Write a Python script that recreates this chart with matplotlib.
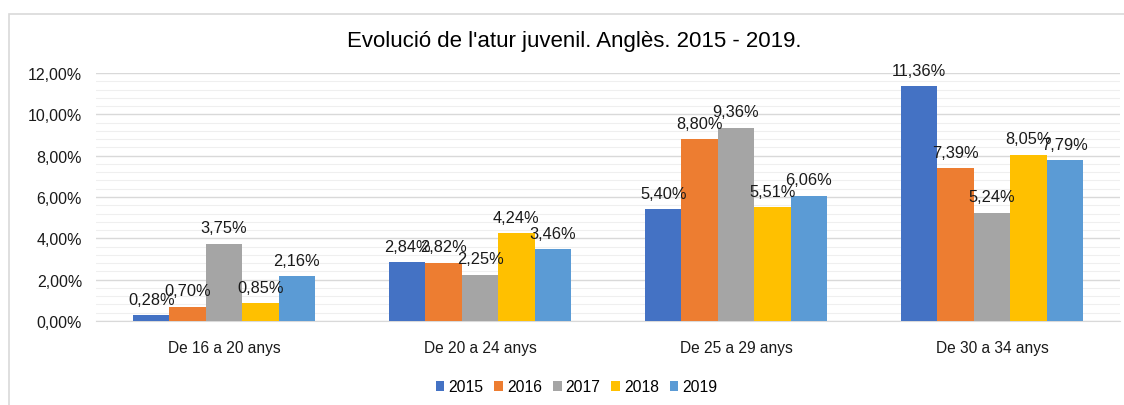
import matplotlib.pyplot as plt
import numpy as np
from matplotlib.patches import Rectangle
from matplotlib.ticker import MultipleLocator, FuncFormatter

plt.rcParams['font.family'] = ['Liberation Sans', 'DejaVu Sans']

# Dades
categories = ['De 16 a 20 anys', 'De 20 a 24 anys', 'De 25 a 29 anys', 'De 30 a 34 anys']
years = ['2015', '2016', '2017', '2018', '2019']
v2015 = [0.28, 2.84, 5.40, 11.36]
v2016 = [0.70, 2.82, 8.80, 7.39]
v2017 = [3.75, 2.25, 9.36, 5.24]
v2018 = [0.85, 4.24, 5.51, 8.05]
v2019 = [2.16, 3.46, 6.06, 7.79]
series = [v2015, v2016, v2017, v2018, v2019]
colors = ['#4472C4', '#ED7D31', '#A5A5A5', '#FFC000', '#5B9BD5']


def pct(v, pos=None):
    return f'{v:.2f}%'.replace('.', ',')


fig = plt.figure(figsize=(11.24, 4.06), dpi=100)
fig.patches.append(Rectangle((9 / 1124, -0.1), 1.2, (406 - 15) / 406 + 0.1,
                             transform=fig.transFigure, fill=False,
                             edgecolor='#D9D9D9', linewidth=1.2))

ax = fig.add_axes([96 / 1124, 1 - 322 / 406, (1120 - 96) / 1124, (322 - 74) / 406])

x = np.arange(len(categories))
w = 0.142
for i, (vals, c, yr) in enumerate(zip(series, colors, years)):
    pos = x + (i - 2) * w
    ax.bar(pos, vals, width=w, color=c, label=yr, zorder=3)
    for p, v in zip(pos, vals):
        ax.annotate(pct(v), (p, v), xytext=(0, 6), textcoords='offset points',
                    ha='center', va='bottom', fontsize=11.8, color='#1a1a1a', zorder=4)

ax.set_xlim(-0.5, len(categories) - 0.5)
ax.set_ylim(0, 12)
ax.yaxis.set_major_locator(MultipleLocator(2))
ax.yaxis.set_minor_locator(MultipleLocator(0.4))
ax.yaxis.set_major_formatter(FuncFormatter(pct))
ax.grid(axis='y', which='major', color='#D9D9D9', linewidth=1, zorder=0)
ax.grid(axis='y', which='minor', color='#EFEFEF', linewidth=0.8, zorder=0)
ax.set_xticks(x)
ax.set_xticklabels(categories)
ax.tick_params(axis='both', which='both', length=0, labelsize=11.5, colors='#1a1a1a')
ax.tick_params(axis='x', labelsize=11.2, pad=14)
ax.tick_params(axis='y', pad=10)
for s in ['top', 'right', 'left']:
    ax.spines[s].set_visible(False)
ax.spines['bottom'].set_color('#D9D9D9')

fig.text(0.511, 1 - 42 / 406, "Evolució de l'atur juvenil. Anglès. 2015 - 2019.",
         ha='center', va='center', fontsize=16, color='#000000')

fig.legend(loc='center', bbox_to_anchor=(0.513, 1 - 388 / 406), ncol=5, frameon=False,
           fontsize=11.3, handlelength=0.55, handleheight=0.55, handletextpad=0.25,
           columnspacing=0.7)

plt.savefig('out.png', dpi=100)
